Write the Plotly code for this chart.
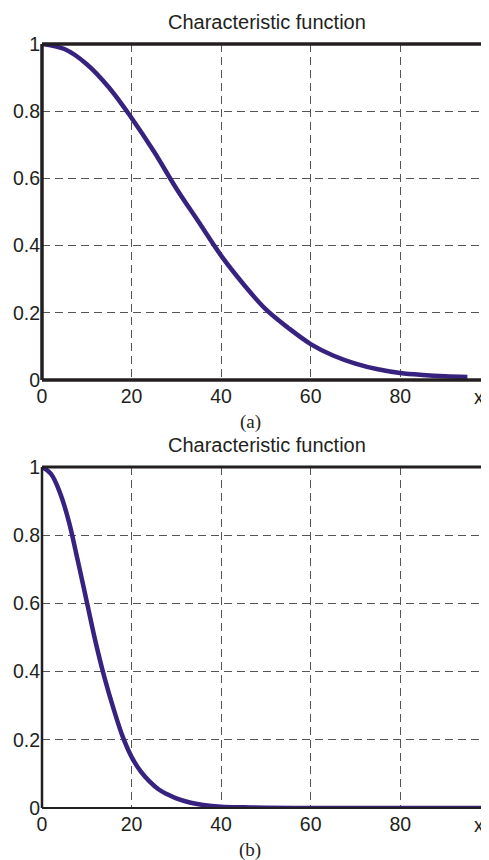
import plotly.graph_objects as go
from plotly.subplots import make_subplots

# ---- data ----
xa = [0, 5, 10, 15, 20, 25, 30, 35, 40, 45, 50, 55, 60, 65, 70, 75, 80, 85, 90, 95]
ya = [1.0, 0.985, 0.94, 0.87, 0.78, 0.68, 0.57, 0.47, 0.37, 0.285, 0.21, 0.155,
      0.107, 0.073, 0.049, 0.032, 0.021, 0.015, 0.011, 0.009]

xb = [0, 2, 4, 6, 8, 10, 12, 14, 16, 18, 20, 22, 24, 26, 28, 30, 33, 36, 40, 45,
      50, 60, 70, 80, 90, 100]
yb = [1.0, 0.98, 0.925, 0.84, 0.725, 0.605, 0.485, 0.38, 0.29, 0.21, 0.15, 0.108,
      0.078, 0.055, 0.04, 0.028, 0.016, 0.009, 0.004, 0.002, 0.001, 0.0, 0.0, 0.0,
      0.0, 0.0]

xticks = [0, 20, 40, 60, 80]
yticks = [0, 0.2, 0.4, 0.6, 0.8, 1]
ytick_text = ["0", "0.2", "0.4", "0.6", "0.8", "1"]
title_text = "Characteristic function"
panel_labels = ["(a)", "(b)"]

# the page body adds an 8px offset, so the figure is laid out 8px up/left
OFF = 8
W, H = 489 - OFF, 860 - OFF
CURVE = "#37237f"
FRAME = "#231f20"
GRID = "#555555"
SANS = "Liberation Sans, Arial, sans-serif"
SERIF = "Liberation Serif, Times New Roman, serif"

fig = make_subplots(rows=2, cols=1)
fig.add_trace(go.Scatter(x=xa, y=ya, mode="lines", line=dict(color=CURVE, width=4.5, shape="spline"),
                         showlegend=False, cliponaxis=False), row=1, col=1)
fig.add_trace(go.Scatter(x=xb, y=yb, mode="lines", line=dict(color=CURVE, width=4.5, shape="spline"),
                         showlegend=False, cliponaxis=False), row=2, col=1)

def py(p):
    return 1 - (p - OFF) / H

def pxf(p):
    return (p - OFF - L) / (W - L - R)

L, R = 42 - OFF, 1
dom_a = [py(380), py(44)]
dom_b = [py(808), py(467)]

axis_common = dict(showgrid=True, gridcolor=GRID, gridwidth=1, griddash="8px,5px",
                   zeroline=False, showline=False, ticks="", automargin=False,
                   tickfont=dict(family=SANS, size=19.5, color=FRAME))

fig.update_layout(
    width=W, height=H, margin=dict(l=L, r=R, t=0, b=0, autoexpand=False),
    paper_bgcolor="white", plot_bgcolor="white",
    xaxis=dict(domain=[0, 1], range=[0, 99.6], tickvals=xticks, ticklabelstandoff=2, **axis_common),
    xaxis2=dict(domain=[0, 1], range=[0, 99.6], tickvals=xticks, ticklabelstandoff=2, **axis_common),
    yaxis=dict(domain=dom_a, range=[0, 1], tickvals=yticks, ticktext=ytick_text, ticklabelstandoff=1, **axis_common),
    yaxis2=dict(domain=dom_b, range=[0, 1], tickvals=yticks, ticktext=ytick_text, ticklabelstandoff=1, **axis_common),
)

shapes = []
def frame(xr, yr, left, top, bottom, right):
    for (x0, y0, x1, y1, w) in [(0, 0, 0, 1, left), (0, 1, 1, 1, top), (0, 0, 1, 0, bottom), (1, 0, 1, 1, right)]:
        if w > 0:
            shapes.append(dict(type="line", xref=xr, yref=yr, x0=x0, y0=y0, x1=x1, y1=y1,
                               line=dict(color=FRAME, width=w), layer="above"))
frame("x domain", "y domain", 3.5, 3.5, 3.5, 1)
frame("x2 domain", "y2 domain", 2.5, 3, 2.2, 0)
fig.update_layout(shapes=shapes)

ann = []
for i, (ytop_px, lab_px) in enumerate([(22, 422), (445, 850)]):
    ann.append(dict(text=title_text, xref="paper", yref="paper", x=pxf(267), y=py(ytop_px),
                    xanchor="center", yanchor="middle", showarrow=False,
                    font=dict(family=SANS, size=20, color=FRAME)))
    ann.append(dict(text=panel_labels[i], xref="paper", yref="paper", x=pxf(250),
                    y=py(lab_px), xanchor="center", yanchor="middle", showarrow=False,
                    font=dict(family=SERIF, size=19, color=FRAME)))
for xr, yr in [("x", "y domain"), ("x2", "y2 domain")]:
    ann.append(dict(text="x", xref=xr, yref=yr, x=97.5, y=0, xanchor="center", yanchor="top",
                    yshift=-4, showarrow=False, font=dict(family=SANS, size=19.5, color=FRAME)))
fig.update_layout(annotations=ann)

fig.write_html("out.html")
